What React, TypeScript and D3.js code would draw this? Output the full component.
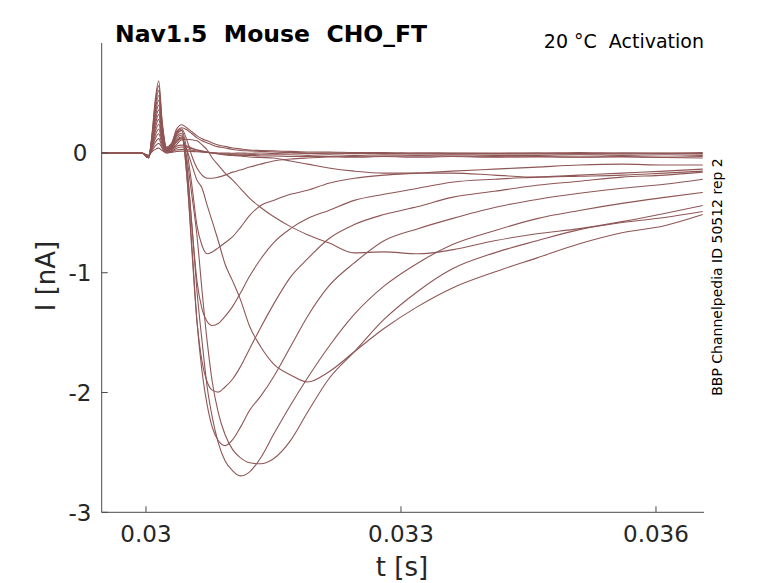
import React from 'react';
import * as d3 from 'd3';

// time axis samples (ms)
const timeMs = [29.48, 29.95, 30.03, 30.07, 30.11, 30.15, 30.19, 30.24, 30.3, 30.36, 30.42, 30.48, 30.54, 30.6, 30.66, 30.72, 30.78, 30.85, 30.93, 31.02, 31.11, 31.22, 31.35, 31.5, 31.7, 31.9, 32.15, 32.45, 32.8, 33.2, 33.6, 34.1, 34.6, 35.1, 35.6, 36.1, 36.55];

// current traces (nA), one per voltage step
const traceZ1 = [0, 0, -0.02, 0.01, 0.03, 0.04, 0.02, 0.0, 0.005, 0.012, 0.015, 0.014, 0.012, 0.01, 0.007, 0.004, 0.002, 0, 0, -0.003, 0, -0.003, 0, -0.005, 0, -0.005, -0.003, 0, -0.005, 0, -0.003, -0.005, 0, -0.005, 0, -0.003, -0.005];
const traceZ2 = [0, 0, -0.02, 0.02, 0.06, 0.08, 0.04, 0.0, 0.01, 0.025, 0.03, 0.028, 0.022, 0.016, 0.01, 0.005, 0.0, -0.005, -0.008, -0.01, -0.01, -0.012, -0.015, -0.015, -0.015, -0.02, -0.015, -0.02, -0.015, -0.02, -0.015, -0.02, -0.02, -0.015, -0.02, -0.015, -0.02];
const traceZ3 = [0, 0, -0.03, 0.03, 0.09, 0.12, 0.05, 0.01, 0.015, 0.04, 0.05, 0.045, 0.035, 0.025, 0.015, 0.008, 0.0, -0.005, -0.01, -0.015, -0.02, -0.02, -0.025, -0.025, -0.03, -0.03, -0.03, -0.035, -0.03, -0.035, -0.03, -0.035, -0.03, -0.035, -0.03, -0.035, -0.03];
const traceS1 = [0, 0, -0.03, 0.04, 0.12, 0.16, 0.07, 0.01, 0.02, 0.055, 0.065, 0.059, 0.042, 0.025, 0.017, 0.008, 0, -0.008, -0.017, -0.021, -0.025, -0.034, -0.038, -0.042, -0.067, -0.093, -0.126, -0.152, -0.168, -0.168, -0.168, -0.185, -0.202, -0.194, -0.185, -0.168, -0.152];
const traceP8 = [0, 0, -0.03, 0.05, 0.15, 0.2, 0.09, 0.01, 0.03, 0.07, 0.11, 0.115, 0.11, 0.101, 0.067, 0.025, -0.042, -0.101, -0.168, -0.227, -0.295, -0.379, -0.455, -0.531, -0.615, -0.682, -0.75, -0.834, -0.826, -0.842, -0.809, -0.733, -0.674, -0.632, -0.573, -0.505, -0.438];
const traceP7 = [0, 0, -0.03, 0.06, 0.18, 0.24, 0.11, 0.02, 0.035, 0.09, 0.118, 0.025, -0.101, -0.227, -0.295, -0.438, -0.573, -0.733, -0.927, -1.07, -1.222, -1.449, -1.618, -1.761, -1.853, -1.912, -1.828, -1.66, -1.466, -1.281, -1.129, -0.994, -0.876, -0.758, -0.666, -0.607, -0.514];
const traceP6 = [0, 0, -0.03, 0.07, 0.21, 0.28, 0.13, 0.02, 0.04, 0.1, 0.126, -0.042, -0.354, -0.691, -1.154, -1.575, -1.912, -2.165, -2.351, -2.477, -2.544, -2.587, -2.595, -2.553, -2.401, -2.165, -1.887, -1.66, -1.39, -1.154, -0.969, -0.834, -0.733, -0.64, -0.581, -0.539, -0.489];
const traceP5 = [0, 0, -0.04, 0.08, 0.24, 0.32, 0.15, 0.02, 0.045, 0.11, 0.135, -0.101, -0.607, -1.154, -1.575, -1.954, -2.207, -2.418, -2.57, -2.654, -2.696, -2.662, -2.544, -2.351, -2.106, -1.879, -1.618, -1.348, -1.112, -0.918, -0.767, -0.649, -0.548, -0.48, -0.421, -0.371, -0.329];
const traceP4 = [0, 0, -0.04, 0.09, 0.27, 0.36, 0.16, 0.03, 0.05, 0.125, 0.15, -0.185, -0.775, -1.407, -1.828, -2.106, -2.291, -2.401, -2.443, -2.393, -2.291, -2.148, -2.03, -1.87, -1.618, -1.365, -1.112, -0.918, -0.733, -0.632, -0.548, -0.455, -0.388, -0.337, -0.295, -0.261, -0.219];
const traceP3 = [0, 0, -0.04, 0.1, 0.3, 0.4, 0.18, 0.03, 0.055, 0.14, 0.165, -0.185, -0.817, -1.407, -1.744, -1.912, -1.98, -1.997, -1.954, -1.887, -1.786, -1.634, -1.457, -1.264, -1.036, -0.885, -0.716, -0.598, -0.514, -0.447, -0.371, -0.32, -0.27, -0.236, -0.202, -0.185, -0.16];
const traceP2 = [0, 0, -0.04, 0.11, 0.33, 0.44, 0.2, 0.03, 0.06, 0.15, 0.185, -0.101, -0.607, -1.07, -1.306, -1.407, -1.441, -1.424, -1.365, -1.281, -1.171, -1.028, -0.885, -0.75, -0.632, -0.548, -0.48, -0.396, -0.345, -0.295, -0.244, -0.219, -0.202, -0.185, -0.168, -0.152, -0.135];
const traceP1 = [0, 0, -0.04, 0.12, 0.36, 0.48, 0.22, 0.04, 0.065, 0.16, 0.19, 0.025, -0.27, -0.607, -0.775, -0.842, -0.826, -0.792, -0.75, -0.699, -0.623, -0.522, -0.438, -0.396, -0.345, -0.312, -0.253, -0.211, -0.185, -0.168, -0.152, -0.135, -0.118, -0.101, -0.093, -0.101, -0.101];
const traceP9 = [0, 0, -0.04, 0.13, 0.39, 0.52, 0.23, 0.04, 0.07, 0.17, 0.2, 0.11, -0.025, -0.126, -0.185, -0.211, -0.211, -0.202, -0.185, -0.16, -0.143, -0.118, -0.093, -0.067, -0.051, -0.042, -0.034, -0.029, -0.025, -0.025, -0.025, -0.029, -0.034, -0.034, -0.034, -0.038, -0.042];
const traceO1 = [0, 0, -0.04, 0.14, 0.42, 0.56, 0.25, 0.04, 0.075, 0.18, 0.21, 0.194, 0.16, 0.126, 0.101, 0.084, 0.067, 0.051, 0.042, 0.029, 0.021, 0.017, 0.013, 0.008, 0.004, 0, 0, -0.004, -0.004, -0.008, -0.008, -0.008, -0.008, -0.008, -0.008, -0.004, -0.008];
const traceO2 = [0, 0, -0.04, 0.15, 0.45, 0.6, 0.27, 0.05, 0.08, 0.2, 0.236, 0.21, 0.177, 0.143, 0.118, 0.101, 0.084, 0.067, 0.055, 0.042, 0.034, 0.025, 0.021, 0.017, 0.013, 0.008, 0.008, 0.004, 0.004, 0, 0, 0, 0, 0.004, 0, 0, 0.004];

const traces = [traceZ1, traceZ2, traceZ3, traceS1, traceP8, traceP7, traceP6, traceP5, traceP4, traceP3, traceP2, traceP1, traceP9, traceO1, traceO2];

const xTicks = [0.03, 0.033, 0.036];
const xTickLabels = ['0.03', '0.033', '0.036'];
const yTicks = [0, -1, -2, -3];
const yTickLabels = ['0', '-1', '-2', '-3'];

const titleText = 'Nav1.5  Mouse  CHO_FT';
const subtitleText = '20 °C  Activation';
const sideText = 'BBP Channelpedia ID 50512 rep 2';
const xLabel = 't [s]';
const yLabel = 'I [nA]';

export default function App() {
  const W = 778;
  const H = 583;
  const left = 101.7;
  const right = 704;
  const top = 43;
  const bottom = 512.3;
  const x = d3.scaleLinear().domain([0.029479, 0.036565]).range([left, right]);
  const y = d3.scaleLinear().domain([-3, 0.918]).range([bottom, top]);
  const line = d3
    .line<number>()
    .x((_, i) => x(timeMs[i] / 1000))
    .y((d) => y(d))
    .curve(d3.curveMonotoneX);
  const font = 'DejaVu Sans, sans-serif';
  const textColor = '#262626';
  const axisColor = '#4a4a4a';
  const traceColor = '#8f5656';

  return (
    <svg
      width={W}
      height={H}
      viewBox={`0 0 ${W} ${H}`}
      style={{ position: 'absolute', left: 0, top: 0, display: 'block', background: '#fff' }}
    >
      <defs>
        <clipPath id="plotClip">
          <rect x={left} y={top} width={right - left} height={bottom - top} />
        </clipPath>
      </defs>
      <rect x={0} y={0} width={W} height={H} fill="#fff" />
      <g clipPath="url(#plotClip)">
        {traces.map((tr, k) => (
          <path key={k} d={line(tr) || ''} fill="none" stroke={traceColor} strokeWidth={1.1} />
        ))}
      </g>
      {/* axes */}
      <line x1={left} y1={top} x2={left} y2={bottom} stroke={axisColor} strokeWidth={1} />
      <line x1={left} y1={bottom} x2={right} y2={bottom} stroke={axisColor} strokeWidth={1} />
      {yTicks.map((v, i) => (
        <g key={'y' + i}>
          <line x1={left} x2={left + 6} y1={y(v)} y2={y(v)} stroke={axisColor} strokeWidth={1} />
          <text
            x={80}
            y={y(v)}
            dy="0.36em"
            textAnchor="middle"
            fontFamily={font}
            fontSize={23}
            fill={textColor}
          >
            {yTickLabels[i]}
          </text>
        </g>
      ))}
      {xTicks.map((v, i) => (
        <g key={'x' + i}>
          <line x1={x(v)} x2={x(v)} y1={bottom} y2={bottom - 6} stroke={axisColor} strokeWidth={1} />
          <text
            x={x(v)}
            y={542}
            textAnchor="middle"
            fontFamily={font}
            fontSize={23}
            fill={textColor}
          >
            {xTickLabels[i]}
          </text>
        </g>
      ))}
      <text x={402} y={576} textAnchor="middle" fontFamily={font} fontSize={26} fill={textColor}>
        {xLabel}
      </text>
      <text
        transform="translate(55,276) rotate(-90)"
        textAnchor="middle"
        fontFamily={font}
        fontSize={26}
        fill={textColor}
      >
        {yLabel}
      </text>
      <text
        x={115}
        y={42}
        fontFamily={font}
        fontSize={23.5}
        fontWeight="bold"
        fill="#000"
        style={{ whiteSpace: 'pre' }}
      >
        {titleText}
      </text>
      <text
        x={704}
        y={48}
        textAnchor="end"
        fontFamily={font}
        fontSize={19}
        fill="#000"
        style={{ whiteSpace: 'pre' }}
      >
        {subtitleText}
      </text>
      <text
        transform="translate(722,277) rotate(-90)"
        textAnchor="middle"
        fontFamily={font}
        fontSize={14}
        fill="#000"
      >
        {sideText}
      </text>
    </svg>
  );
}
